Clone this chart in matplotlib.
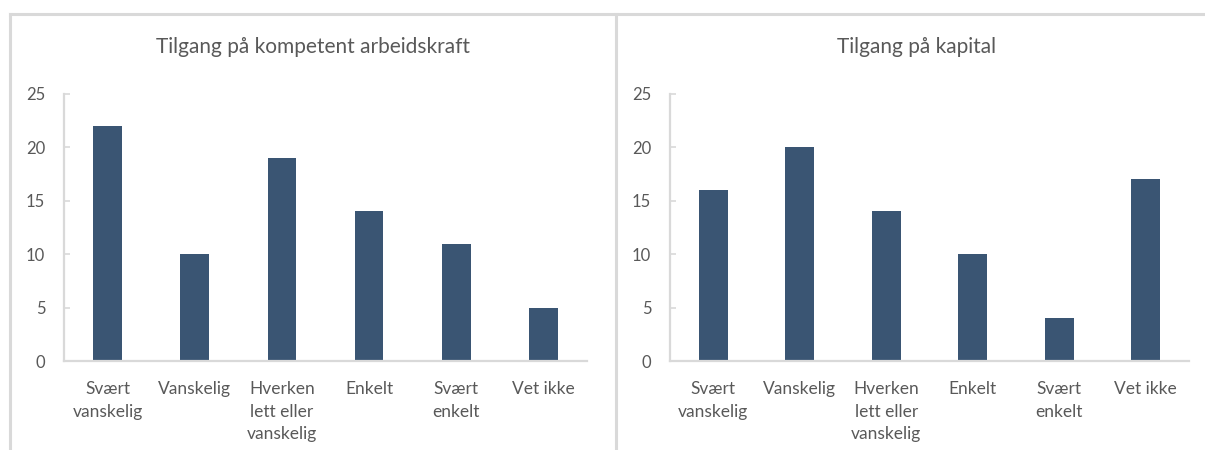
import matplotlib.pyplot as plt
from matplotlib.lines import Line2D

categories = ["Svært\nvanskelig", "Vanskelig", "Hverken\nlett eller\nvanskelig",
              "Enkelt", "Svært\nenkelt", "Vet ikke"]
arbeidskraft = [22, 10, 19, 14, 11, 5]
kapital = [16, 20, 14, 10, 4, 17]
titles = ["Tilgang på kompetent arbeidskraft", "Tilgang på kapital"]
yticks = [0, 5, 10, 15, 20, 25]

plt.rcParams["font.family"] = ["Lato", "DejaVu Sans"]
bar_color = "#3A5573"
text_color = "#595959"
line_color = "#D9D9D9"

W, H = 1205, 450
fig = plt.figure(figsize=(W / 100, H / 100), dpi=100)

# panel frames (px coords -> figure fraction)
def px(x, y):
    return x / W, 1 - y / H

for (x0, y0), (x1, y1) in [((10, 13.5), (W, 13.5)), ((10, 13.5), (10, H)),
                           ((616, 13.5), (616, H))]:
    a, b = px(x0, y0)
    c, d = px(x1, y1)
    fig.add_artist(Line2D([a, c], [b, d], color=line_color, lw=2.2))

axes_px = [(64, 587), (670, 1189)]
title_x = [313, 917]
series = [arbeidskraft, kapital]

for (xl, xr), tx, vals, title in zip(axes_px, title_x, series, titles):
    ax = fig.add_axes([xl / W, 1 - 361 / H, (xr - xl) / W, (361 - 94) / H])
    x = range(len(categories))
    ax.bar(x, vals, width=0.33, color=bar_color)
    ax.set_xlim(-0.5, len(categories) - 0.5)
    ax.set_ylim(0, 25)
    ax.set_yticks(yticks)
    ax.set_xticks(list(x))
    ax.set_xticklabels(categories, linespacing=1.5)
    for s in ["top", "right"]:
        ax.spines[s].set_visible(False)
    for s in ["left", "bottom"]:
        ax.spines[s].set_color(line_color)
        ax.spines[s].set_linewidth(1.6)
    ax.tick_params(axis="y", direction="in", length=4, width=1.2, color=line_color,
                   labelsize=12, labelcolor=text_color, pad=13.5)
    ax.tick_params(axis="x", length=0, labelsize=12.5, labelcolor=text_color, pad=14.5)
    fx, fy = px(tx, 47)
    fig.text(fx, fy, title, ha="center", va="center", fontsize=15, color=text_color)

fig.savefig("out.png", dpi=100)
